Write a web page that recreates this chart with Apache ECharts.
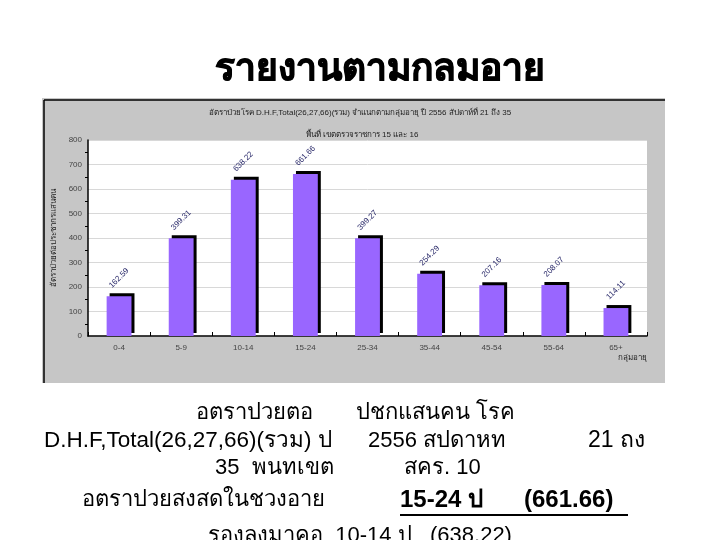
<!DOCTYPE html>
<html><head><meta charset="utf-8">
<script src="https://cdn.jsdelivr.net/npm/echarts@6/dist/echarts.min.js"></script>
<style>html,body{margin:0;padding:0;background:#fff}#c{width:720px;height:540px}</style>
</head><body><div id="c"></div>
<script>
const categories = ['0-4','5-9','10-14','15-24','25-34','35-44','45-54','55-64','65+'];
const rates = [162.59, 399.31, 638.22, 661.66, 399.27, 254.29, 207.16, 208.07, 114.11];
const yTicks = [0, 100, 200, 300, 400, 500, 600, 700, 800];

const slideTitle = 'รายงานตามกลมอาย';
const chartTitle = 'อัตราป่วยโรค D.H.F,Total(26,27,66)(รวม) จำแนกตามกลุ่มอายุ ปี 2556 สัปดาห์ที่ 21 ถึง 35';
const chartSub = 'พื้นที่ เขตตรวจราชการ 15 และ 16';
const yName = 'อัตราป่วยต่อประชากรแสนคน';
const xName = 'กลุ่มอายุ';
const line1 = ['อตราปวยตอ', 'ปชกแสนคน โรค'];
const line2 = ['D.H.F,Total(26,27,66)(รวม) ป', '2556 สปดาหท', '21 ถง'];
const line3 = ['35  พนทเขต', 'สคร. 10'];
const line4 = ['อตราปวยสงสดในชวงอาย', '15-24 ป', '(661.66)'];
const line5 = 'รองลงมาคอ  10-14 ป   (638.22)';

const FONT = 'Liberation Sans, Arial, sans-serif';
function t(x, y, text, size, bold, align) {
  return {type:'text', x:x, y:y, style:{text:text, font:(bold?'bold ':'')+size+'px '+FONT, fill:'#000', textAlign:align||'left', textVerticalAlign:'middle'}};
}
const chart = echarts.init(document.getElementById('c'), null, {renderer:'canvas'});
chart.setOption({
  backgroundColor: '#ffffff',
  animation: false,
  graphic: [
    {type:'rect', shape:{x:42,y:98,width:623,height:285}, style:{fill:'#c6c6c6'}, z:-10},
    {type:'line', shape:{x1:44,y1:100,x2:665,y2:100}, style:{stroke:'#000',lineWidth:1.5}, z:-9},
    {type:'line', shape:{x1:44,y1:100,x2:44,y2:383}, style:{stroke:'#000',lineWidth:1.5}, z:-9},
    {type:'rect', shape:{x:88,y:140,width:559,height:196}, style:{fill:'#ffffff'}, z:-8},
    {type:'text', x:380, y:70, style:{text:slideTitle, font:'bold 37px '+FONT, fill:'#000', textAlign:'center', textVerticalAlign:'middle', shadowColor:'#8a8a8a', shadowOffsetX:2, shadowOffsetY:2, shadowBlur:1, stroke:'#000', lineWidth:1}},
    t(196, 413, line1[0], 22), t(356, 413, line1[1], 22),
    t(44, 441, line2[0], 22.5), t(368, 441, line2[1], 22), t(588, 441, line2[2], 23),
    t(215, 468, line3[0], 22), t(404, 468, line3[1], 22),
    t(82, 500, line4[0], 22), t(400, 500, line4[1], 24, true), t(524, 500, line4[2], 24, true),
    {type:'line', shape:{x1:400,y1:515,x2:628,y2:515}, style:{stroke:'#000',lineWidth:2}},
    t(360, 536, line5, 22, false, 'center')
  ],
  title: [
    {text: chartTitle, left: 355, textAlign:'center', top: 104, textStyle:{fontSize:8, fontWeight:'normal', color:'#222', fontFamily:FONT}},
    {text: chartSub, left: 357, textAlign:'center', top: 126, textStyle:{fontSize:8, fontWeight:'normal', color:'#222', fontFamily:FONT}}
  ],
  grid: {left: 88, right: 73, top: 140, bottom: 204, containLabel:false},
  xAxis: {
    type:'category', data: categories,
    name: xName, nameLocation:'end', nameGap: 0,
    nameTextStyle:{fontSize:8, color:'#222', fontFamily:FONT, align:'right', verticalAlign:'top', padding:[18,0,0,0]},
    axisLine:{lineStyle:{color:'#000', width:1.5}},
    axisTick:{show:true, inside:true, length:4, lineStyle:{color:'#000'}},
    axisLabel:{fontSize:8, color:'#444', margin:8, fontFamily:FONT}
  },
  yAxis: {
    type:'value', min:0, max:800, interval:100,
    name: yName, nameLocation:'middle', nameRotate:90, nameGap:18,
    nameTextStyle:{fontSize:8, color:'#222', fontFamily:FONT},
    axisLine:{show:true, lineStyle:{color:'#000', width:1.5}},
    axisTick:{show:false},
    minorTick:{show:true, splitNumber:2, length:3, lineStyle:{color:'#000'}},
    axisLabel:{fontSize:8, color:'#444', margin:6, fontFamily:FONT},
    splitLine:{show:true, lineStyle:{color:'#d8d8d8', width:1}}
  },
  series: [{
    type:'bar', data: rates, barWidth:'40%',
    itemStyle:{color:'#9966ff', shadowColor:'#000', shadowOffsetX:3, shadowOffsetY:-3, shadowBlur:0},
    label:{show:true, position:'top', distance:18, rotate:45, align:'center', verticalAlign:'middle',
      fontSize:8, color:'#2a2a6a', fontFamily:FONT, formatter:p=>p.value.toFixed(2)}
  }]
});
</script></body></html>
